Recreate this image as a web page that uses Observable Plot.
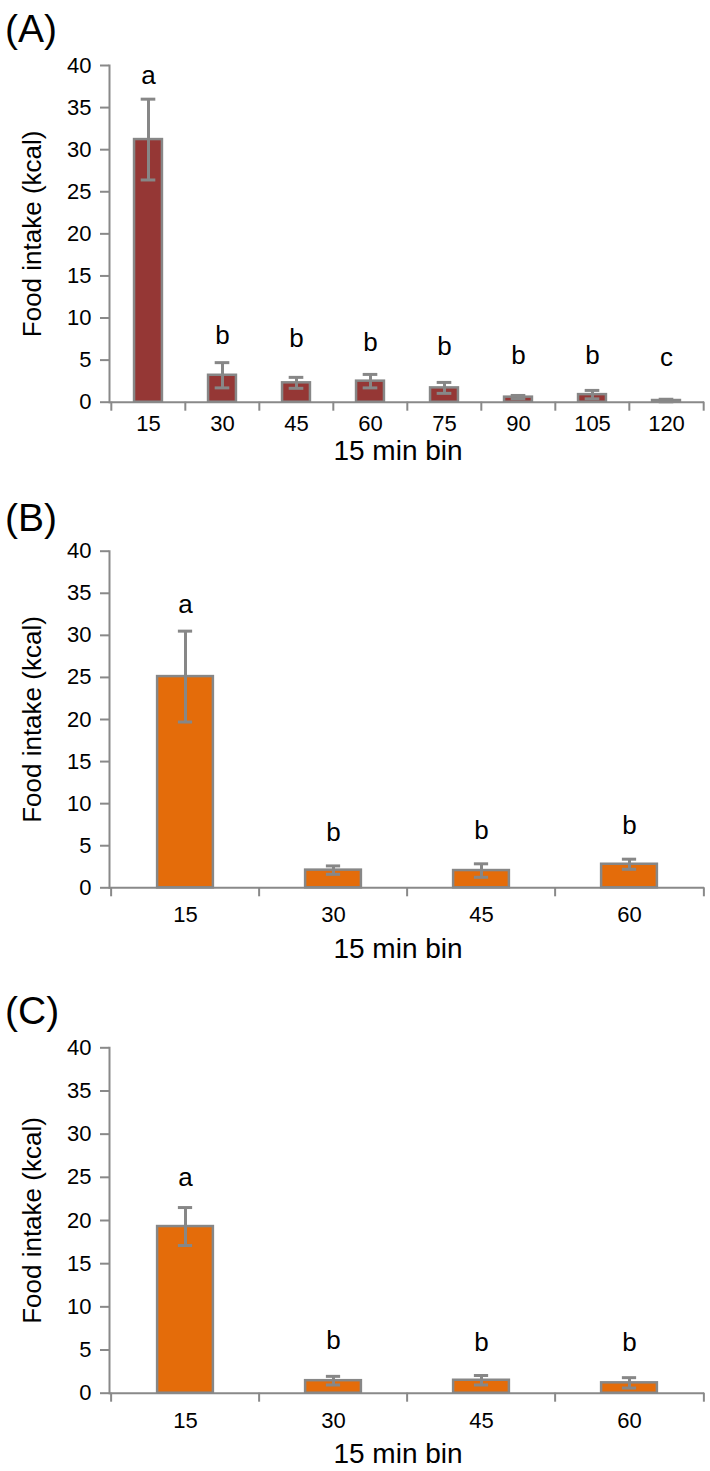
<!DOCTYPE html>
<html><head><meta charset="utf-8">
<script src="https://cdn.jsdelivr.net/npm/d3@7"></script>
<script src="https://cdn.jsdelivr.net/npm/@observablehq/plot@0.6"></script>
<style>
body{margin:0;background:#fff;}
#wrap{position:relative;width:710px;height:1471px;background:#fff;font-family:"Liberation Sans",Arial,Helvetica,sans-serif;overflow:hidden;}
.panel{position:absolute;left:0;}
.tag{position:absolute;left:5px;font-size:39px;line-height:39px;color:#000;}
</style></head><body><div id="wrap"></div>
<script>
// ---- data ----
const yTicks = [0, 5, 10, 15, 20, 25, 30, 35, 40];
const xLabel = "15 min bin";
const yLabel = "Food intake (kcal)";

const binsA = ["15", "30", "45", "60", "75", "90", "105", "120"];
const meanA = [31.2, 3.2, 2.3, 2.5, 1.7, 0.6, 0.9, 0.2];
const seA   = [4.8, 1.5, 0.65, 0.8, 0.65, 0.2, 0.5, 0.15];
const letterA = ["a", "b", "b", "b", "b", "b", "b", "c"];
const letterYA = [38.8, 7.9, 7.5, 7.1, 6.6, 5.5, 5.5, 5.3];

const binsB = ["15", "30", "45", "60"];
const meanB = [25.1, 2.1, 2.05, 2.8];
const seB   = [5.4, 0.5, 0.8, 0.6];
const letterB = ["a", "b", "b", "b"];
const letterYB = [33.7, 6.6, 6.8, 7.4];

const binsC = ["15", "30", "45", "60"];
const meanC = [19.3, 1.45, 1.5, 1.2];
const seC   = [2.2, 0.5, 0.55, 0.6];
const letterC = ["a", "b", "b", "b"];
const letterYC = [25.0, 6.1, 5.9, 5.9];

// ---- layout / style ----
const W = 710, ML = 109, MR = 6;
const axisGray = "#898989";
const panels = [
  {tag: "(A)", tagTop: 9,   top: 0,   height: 465, mt: 65,   mb: 63.3, fill: "#953735",
   bins: binsA, mean: meanA, se: seA, letter: letterA, letterY: letterYA, tickDy: 21.5, xlDy: 48.5},
  {tag: "(B)", tagTop: 498, top: 465, height: 495, mt: 85.7, mb: 72.7, fill: "#E46C0A",
   bins: binsB, mean: meanB, se: seB, letter: letterB, letterY: letterYB, tickDy: 27.5, xlDy: 61},
  {tag: "(C)", tagTop: 991, top: 960, height: 511, mt: 87.3, mb: 78.3, fill: "#E46C0A",
   bins: binsC, mean: meanC, se: seC, letter: letterC, letterY: letterYC, tickDy: 27.5, xlDy: 61}
];

const wrap = document.getElementById("wrap");
for (const p of panels) {
  const data = p.bins.map((b, i) => ({bin: b, mean: p.mean[i], se: p.se[i], letter: p.letter[i], ly: p.letterY[i]}));
  const n = p.bins.length;
  const bw = (W - ML - MR) / n;
  const capInset = (bw - 15) / 2;
  const chart = Plot.plot({
    width: W, height: p.height,
    marginTop: p.mt, marginBottom: p.mb, marginLeft: ML, marginRight: MR,
    x: {domain: p.bins, padding: 0, axis: null},
    y: {domain: [0, 40], axis: null},
    style: {fontFamily: '"Liberation Sans", Arial, sans-serif', fontSize: "22px", color: "#000", background: "#fff", overflow: "visible"},
    marks: [
      Plot.barY(data, {x: "bin", y: "mean", fill: p.fill, stroke: "#878787", strokeWidth: 2.5,
        insetLeft: bw * 0.31, insetRight: bw * 0.31}),
      Plot.ruleX(data, {x: "bin", y1: d => d.mean - d.se, y2: d => d.mean + d.se, stroke: "#878787", strokeWidth: 3}),
      Plot.tickY(data, {x: "bin", y: d => d.mean + d.se, stroke: "#878787", strokeWidth: 3, insetLeft: capInset, insetRight: capInset}),
      Plot.tickY(data, {x: "bin", y: d => d.mean - d.se, stroke: "#878787", strokeWidth: 3, insetLeft: capInset, insetRight: capInset}),
      Plot.ruleY([0], {stroke: axisGray, strokeWidth: 2}),
      Plot.frame({anchor: "left", stroke: axisGray, strokeWidth: 2}),
      // y ticks + labels
      Plot.axisY({ticks: yTicks, tickSize: 9, tickFormat: () => "", stroke: axisGray, strokeWidth: 2, label: null}),
      Plot.text(yTicks, {y: d => d, text: d => String(d), frameAnchor: "left", dx: -18, textAnchor: "end", lineAnchor: "middle", fontSize: 22, fill: "#000"}),
      // x ticks at category boundaries + labels at centres
      Plot.axisX({ticks: p.bins, tickSize: 9, tickFormat: () => "", stroke: axisGray, strokeWidth: 2, dx: -bw / 2, label: null}),
      Plot.axisX({ticks: [p.bins[n - 1]], tickSize: 9, tickFormat: () => "", stroke: axisGray, strokeWidth: 2, dx: bw / 2, label: null}),
      Plot.text(p.bins, {x: d => d, text: d => d, frameAnchor: "bottom", dy: p.tickDy, lineAnchor: "middle", fontSize: 22, fill: "#000"}),
      // significance letters
      Plot.text(data, {x: "bin", y: "ly", text: "letter", fontSize: 26, lineAnchor: "middle", fill: "#000"}),
      // axis titles
      Plot.text([yLabel], {frameAnchor: "left", rotate: -90, dx: -77, fontSize: 26, lineAnchor: "middle", textAnchor: "middle", fill: "#000"}),
      Plot.text([xLabel], {frameAnchor: "bottom", dy: p.xlDy, dx: -9, fontSize: 28, lineAnchor: "middle", fill: "#000"})
    ]
  });
  const box = document.createElement("div");
  box.className = "panel";
  box.style.top = p.top + "px";
  box.appendChild(chart);
  wrap.appendChild(box);
  const tag = document.createElement("div");
  tag.className = "tag";
  tag.style.top = p.tagTop + "px";
  tag.textContent = p.tag;
  wrap.appendChild(tag);
}
</script></body></html>
